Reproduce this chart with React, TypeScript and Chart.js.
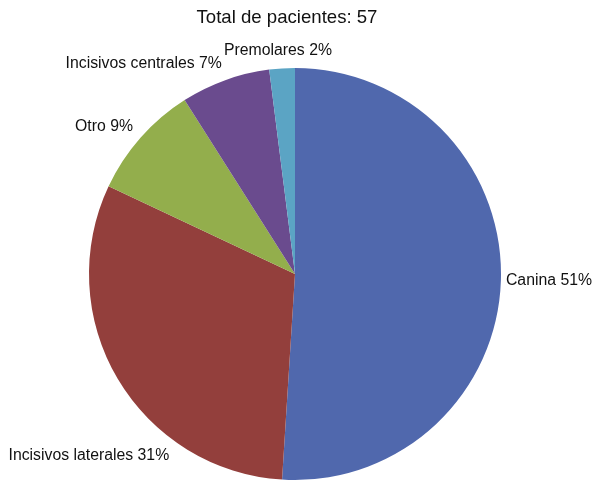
import React, { useEffect, useRef } from "react";
import { Chart, registerables } from "chart.js";

Chart.register(...registerables);

const titleText = "Total de pacientes: 57";
const categories = ["Canina", "Incisivos laterales", "Otro", "Incisivos centrales", "Premolares"];
const percentages = [51, 31, 9, 7, 2];
const sliceColors = ["#5068AD", "#933F3C", "#93AE4C", "#6A4B8E", "#5BA4C4"];

const W = 593;
const H = 483;
const FONT = "'Liberation Sans', Arial, Helvetica, sans-serif";

const labelPlugin = {
  id: "outsideLabels",
  afterDraw(chart: any) {
    const ctx = chart.ctx as CanvasRenderingContext2D;
    ctx.save();
    // title
    ctx.fillStyle = "#111";
    ctx.font = `18.6px ${FONT}`;
    ctx.textAlign = "center";
    ctx.textBaseline = "alphabetic";
    ctx.fillText(titleText, 287, 23);

    ctx.font = `15.8px ${FONT}`;
    ctx.textBaseline = "middle";
    ctx.textAlign = "left";
    const meta = chart.getDatasetMeta(0);
    const d = 10;
    const h = 15;
    meta.data.forEach((arc: any, i: number) => {
      const text = `${categories[i]} ${percentages[i]}%`;
      const w = ctx.measureText(text).width;
      let a = (arc.startAngle + arc.endAngle) / 2;
      const R = arc.outerRadius + d;
      const place = (ang: number) => {
        const px = arc.x + Math.cos(ang) * R;
        const py = arc.y + Math.sin(ang) * R;
        const c = Math.cos(ang);
        const k = Math.sign(c) * Math.max(0, Math.min(1, (Math.abs(c) - 0.05) * 5));
        const cx = px + (w / 2) * k;
        const cy = py + Math.sin(ang) * (h / 2);
        return { left: cx - w / 2, right: cx + w / 2, cy };
      };
      let p = place(a);
      const over = Math.max(8 - p.left, p.right - (W - 1));
      if (over > 0 && over <= 12) {
        const shift = p.left < 8 ? 8 - p.left : -(p.right - (W - 1));
        p = { left: p.left + shift, right: p.right + shift, cy: p.cy };
      } else {
        let guard = 0;
        while ((p.left < 8 || p.right > W - 1) && guard < 1000) {
          a += Math.cos(a) < 0 ? -0.005 : 0.005;
          p = place(a);
          guard++;
        }
      }
      ctx.fillText(text, p.left, p.cy);
    });
    ctx.restore();
  },
};

export default function App() {
  const ref = useRef<HTMLCanvasElement>(null);
  useEffect(() => {
    document.body.style.margin = "0";
    const chart = new Chart(ref.current!, {
      type: "pie",
      data: {
        labels: categories,
        datasets: [
          {
            data: percentages,
            backgroundColor: sliceColors,
            borderWidth: 0,
            hoverOffset: 0,
            offset: 0,
          },
        ],
      },
      options: {
        responsive: false,
        animation: false,
        devicePixelRatio: 1,
        layout: { padding: { left: 89, right: 92, top: 68, bottom: 3 } },
        plugins: {
          legend: { display: false },
          tooltip: { enabled: false },
          title: { display: false },
        },
      },
      plugins: [labelPlugin],
    });
    return () => chart.destroy();
  }, []);
  return (
    <div style={{ width: W, height: H, background: "#fff" }}>
      <canvas ref={ref} width={W} height={H} />
    </div>
  );
}
